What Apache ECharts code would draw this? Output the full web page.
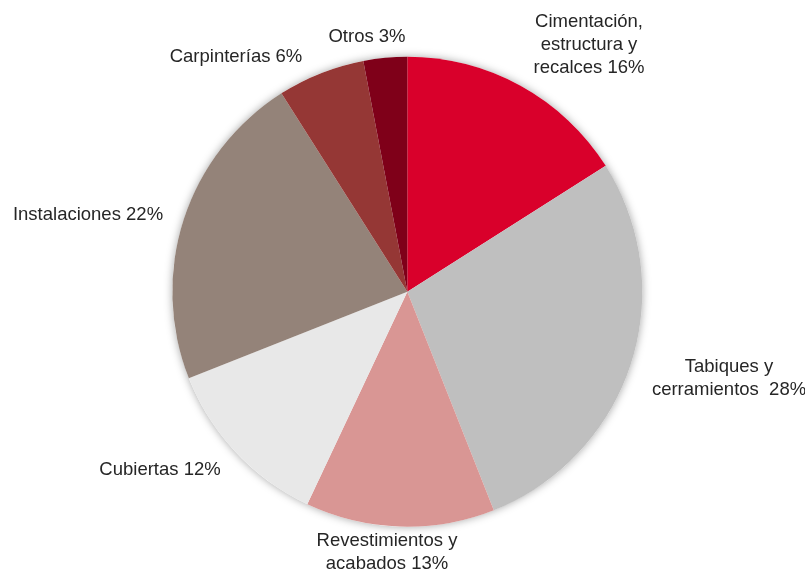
<!DOCTYPE html>
<html>
<head>
<meta charset="utf-8">
<script src="https://cdn.jsdelivr.net/npm/echarts@6/dist/echarts.min.js"></script>
<style>
html,body{margin:0;padding:0;background:#fff;}
#c{width:805px;height:572px;}
</style>
</head>
<body>
<div id="c"></div>
<script>
const categories = [
  "Cimentación,\nestructura y\nrecalces",
  "Tabiques y\ncerramientos ",
  "Revestimientos y\nacabados",
  "Cubiertas",
  "Instalaciones",
  "Carpinterías",
  "Otros"
];
const values = [16, 28, 13, 12, 22, 6, 3];
const colors = ["#D9002B", "#BFBFBF", "#D99694", "#E8E8E8", "#948379", "#953735", "#7F0019"];

// label centres (layout only)
const labelPos = [
  [589, 45], [729, 378], [387, 552], [160, 470], [88, 215], [236, 57], [367, 37]
];

const chart = echarts.init(document.getElementById('c'), null, {renderer: 'canvas'});
const center = ['50.6%', '51%'];
const radius = 235;

chart.setOption({
  animation: false,
  series: [
    {
      type: 'pie',
      silent: true,
      center: center,
      radius: radius,
      z: 1,
      label: {show: false},
      labelLine: {show: false},
      data: [{value: 1, itemStyle: {color: '#ffffff', shadowBlur: 8, shadowColor: 'rgba(0,0,0,0.35)'}}]
    },
    {
      type: 'pie',
      center: center,
      radius: radius,
      startAngle: 90,
      clockwise: true,
      z: 2,
      avoidLabelOverlap: false,
      data: categories.map((c, i) => ({name: c, value: values[i], itemStyle: {color: colors[i]}})),
      itemStyle: {borderWidth: 0},
      label: {
        show: true,
        position: 'outside',
        formatter: p => p.name + ' ' + p.value + '%',
        fontFamily: '"Liberation Sans", Arial, sans-serif',
        fontSize: 18.5,
        lineHeight: 23,
        color: '#262626',
        align: 'center',
        overflow: 'none',
        width: 300
      },
      labelLine: {show: false},
      labelLayout: function (params) {
        const p = labelPos[params.dataIndex];
        return {x: p[0], y: p[1], align: 'center', verticalAlign: 'middle'};
      }
    }
  ]
});
</script>
</body>
</html>
